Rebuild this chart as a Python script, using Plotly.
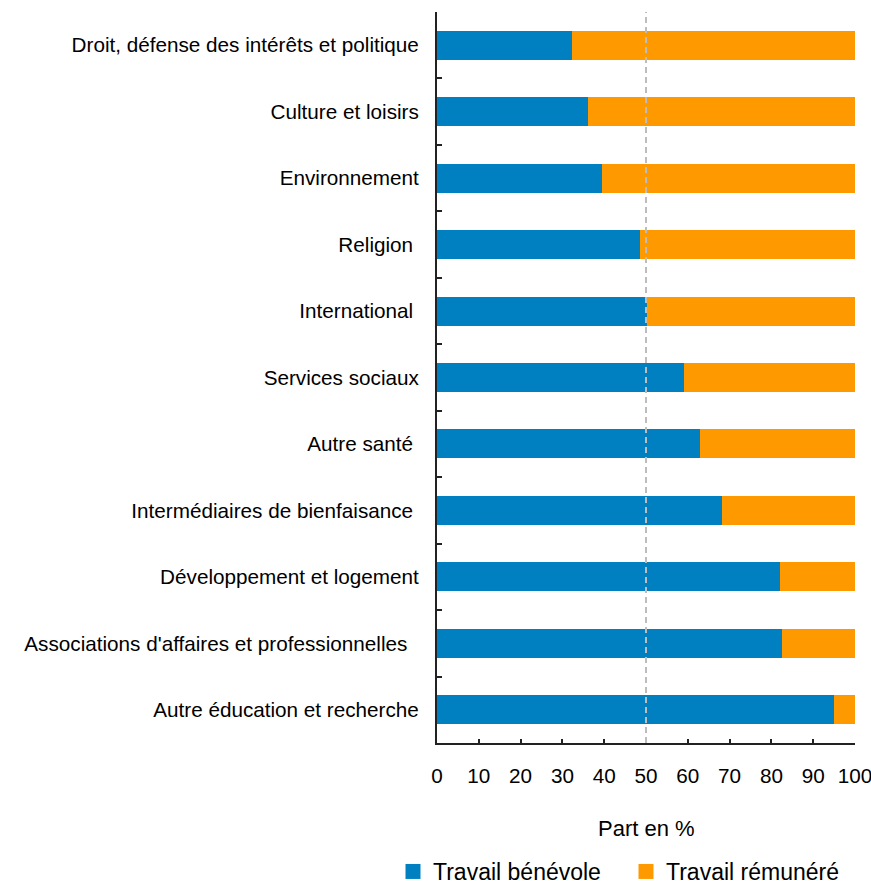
import plotly.graph_objects as go

categories = [
    "Droit, défense des intérêts et politique",
    "Culture et loisirs",
    "Environnement",
    "Religion\u00a0",
    "International\u00a0",
    "Services sociaux",
    "Autre santé\u00a0",
    "Intermédiaires de bienfaisance\u00a0",
    "Développement et logement",
    "Associations d'affaires et professionnelles\u00a0\u00a0",
    "Autre éducation et recherche",
]
benevole = [32.4, 36.2, 39.4, 48.6, 50.3, 59.1, 62.8, 68.3, 82.1, 82.5, 94.9]
remunere = [round(100 - v, 1) for v in benevole]
x_ticks = [0, 10, 20, 30, 40, 50, 60, 70, 80, 90, 100]
series_names = ["Travail bénévole", "Travail rémunéré"]
series_colors = ["#0080c0", "#ff9900"]

FONT = "Liberation Sans, Arial, sans-serif"
fig = go.Figure()
for name, vals, col in zip(series_names, [benevole, remunere], series_colors):
    fig.add_trace(go.Bar(y=categories, x=vals, orientation="h", name=name,
                         marker=dict(color=col, line=dict(width=0)), showlegend=False))
# legend entries (square swatches)
for name, col in zip(series_names, series_colors):
    fig.add_trace(go.Scatter(x=[None], y=[None], mode="markers", name=name,
                             marker=dict(symbol="square", size=15, color=col), showlegend=True))

fig.add_shape(type="line", x0=50, x1=50, xref="x", y0=0, y1=1, yref="paper",
              line=dict(color="#bdbdbd", width=2, dash="6px,4px"), layer="above")

fig.add_annotation(text="Part en %", x=0.5, xref="paper", xanchor="center",
                   y=(743 - 828) / 731, yref="paper", yanchor="middle", showarrow=False,
                   font=dict(size=22, family=FONT, color="black"))

fig.update_layout(
    barmode="stack",
    bargap=0.564,
    width=871, height=884,
    margin=dict(l=437, r=16, t=12, b=141, autoexpand=False),
    plot_bgcolor="white", paper_bgcolor="white",
    font=dict(family=FONT, size=20.7, color="black"),
    showlegend=True,
    legend=dict(orientation="h", x=(393 - 437) / 418, xanchor="left",
                y=(743 - 871.5) / 731, yanchor="middle",
                font=dict(size=23, family=FONT, color="black"), itemwidth=30,
                entrywidth=188, entrywidthmode="pixels", traceorder="normal",
                bgcolor="rgba(0,0,0,0)"),
    xaxis=dict(range=[0, 100], tickvals=x_ticks, ticks="inside", ticklen=4, tickwidth=2,
               tickcolor="#222", showline=True, linecolor="#222", linewidth=2,
               showgrid=False, zeroline=False, automargin=False, ticklabeloverflow="allow",
               ticklabelstandoff=13, tickfont=dict(size=20.7, family=FONT, color="black")),
    yaxis=dict(categoryorder="array", categoryarray=categories, autorange="reversed",
               ticks="inside", tickson="boundaries", ticklen=5, tickwidth=2, tickcolor="#222",
               showline=True, linecolor="#222", linewidth=2, showgrid=False, automargin=False,
               ticklabelstandoff=12, tickfont=dict(size=20.7, family=FONT, color="black")),
)

fig.write_html("out.html", post_script="document.body.style.margin='0';",
               config={"displayModeBar": False})
